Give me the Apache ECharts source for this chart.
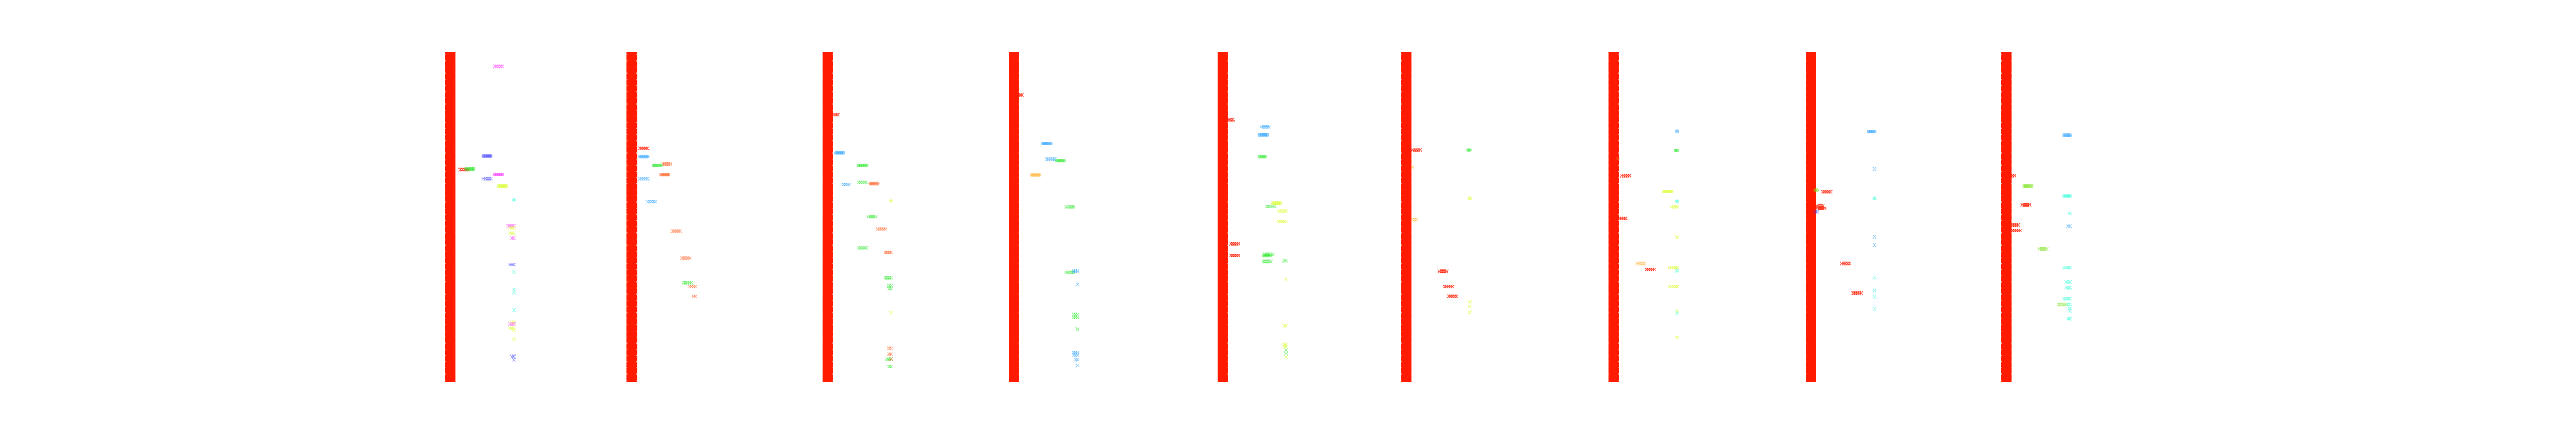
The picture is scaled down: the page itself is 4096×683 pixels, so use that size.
<!DOCTYPE html>
<html>
<head>
<meta charset="utf-8">
<script src="https://cdn.jsdelivr.net/npm/echarts@6/dist/echarts.min.js"></script>
<style>
html,body{margin:0;padding:0;background:#ffffff;}
#chart{width:4096px;height:683px;}
</style>
</head>
<body>
<div id="chart"></div>
<script>
// ---- layout (reference pixels, scaled by SCALE) ----
const SCALE = 0.682;
const panelLeftRef = [1037.7, 1461, 1917.4, 2352, 2838.4, 3266.5, 3750, 4210, 4665.6];
const panelTopRef = 120.7, panelHeightRef = 769, stepWidthRef = 4.45;
const stepRange = [-1, 37];
const valueRange = [0, 100];
const startBlock = [-1, 4.5];   // step span of the red start column

// ---- colour categories: [r, g, b] ----
const palette = {
  r: [255, 26, 0], g: [34, 230, 34], b: [50, 50, 255], m: [255, 34, 255], y: [212, 255, 20],
  c: [34, 255, 212], s: [30, 155, 255], o: [255, 85, 20], a: [255, 165, 20], l: [118, 226, 20]
};
const crossAlpha = {r: 0.95, default: 0.62};
const circleAlpha = 0.62;

// ---- data: [step, value, colour category] ----
const panel1Circles = [
  [19,68.4,'b'],[20,68.4,'b'],[21,68.4,'b'],[22,68.4,'b'],[23,68.4,'b'],
  [10,64.5,'g'],[11,64.5,'g'],[12,64.5,'g'],[13,64.5,'g'],[14,64.5,'g'],
  [25,62.9,'m'],[26,62.9,'m'],[27,62.9,'m'],[28,62.9,'m'],[29,62.9,'m'],
  [27,59.3,'y'],[28,59.3,'y'],[29,59.3,'y'],[30,59.3,'y'],[31,59.3,'y'],
  [35,55.1,'c']
];
const panel1Crosses = [
  [25,95.6,'m'],[26,95.6,'m'],[27,95.6,'m'],[28,95.6,'m'],[29,95.6,'m'],
  [7,64.3,'r'],[8,64.3,'r'],[9,64.3,'r'],[10,64.3,'r'],[11,64.3,'r'],
  [19,61.6,'b'],[20,61.6,'b'],[21,61.6,'b'],[22,61.6,'b'],[23,61.6,'b'],
  [32,47.3,'m'],[33,47.3,'m'],[34,47.3,'m'],[35,47.3,'m'],
  [33,46.7,'y'],[34,46.7,'y'],[35,46.7,'y'],
  [33,45.1,'y'],[34,45.1,'y'],[35,45.1,'y'],
  [34,43.6,'m'],[35,43.6,'m'],
  [33,35.6,'b'],[34,35.6,'b'],[35,35.6,'b'],
  [35,33.3,'c'],[35,28.0,'c'],[35,27.1,'c'],[35,21.8,'c'],
  [34,18.0,'y'],[35,18.0,'y'],
  [33,17.5,'m'],[34,17.5,'m'],[35,17.5,'m'],
  [33,16.3,'y'],[34,16.3,'y'],[35,16.3,'y'],
  [35,15.7,'y'],[35,13.1,'y'],
  [34,7.7,'b'],[35,7.7,'b'],[35,6.7,'b']
];

const panel2Circles = [
  [6,68.3,'s'],[7,68.3,'s'],[8,68.3,'s'],[9,68.3,'s'],[10,68.3,'s'],
  [13,65.6,'g'],[14,65.6,'g'],[15,65.6,'g'],[16,65.6,'g'],[17,65.6,'g'],
  [17,62.8,'o'],[18,62.8,'o'],[19,62.8,'o'],[20,62.8,'o'],[21,62.8,'o']
];
const panel2Crosses = [
  [6,70.8,'r'],[7,70.8,'r'],[8,70.8,'r'],[9,70.8,'r'],[10,70.8,'r'],
  [18,66.0,'o'],[19,66.0,'o'],[20,66.0,'o'],[21,66.0,'o'],[22,66.0,'o'],
  [6,61.6,'s'],[7,61.6,'s'],[8,61.6,'s'],[9,61.6,'s'],[10,61.6,'s'],
  [10,54.6,'s'],[11,54.6,'s'],[12,54.6,'s'],[13,54.6,'s'],[14,54.6,'s'],
  [23,45.7,'o'],[24,45.7,'o'],[25,45.7,'o'],[26,45.7,'o'],[27,45.7,'o'],
  [28,37.5,'o'],[29,37.5,'o'],[30,37.5,'o'],[31,37.5,'o'],[32,37.5,'o'],
  [29,30.1,'g'],[30,30.1,'g'],[31,30.1,'g'],[32,30.1,'g'],[33,30.1,'g'],
  [32,28.9,'o'],[33,28.9,'o'],[34,28.9,'o'],[35,28.9,'o'],
  [34,25.9,'o'],[35,25.9,'o']
];

const panel3Circles = [
  [6,69.4,'s'],[7,69.4,'s'],[8,69.4,'s'],[9,69.4,'s'],[10,69.4,'s'],
  [18,65.6,'g'],[19,65.6,'g'],[20,65.6,'g'],[21,65.6,'g'],[22,65.6,'g'],
  [24,60.1,'o'],[25,60.1,'o'],[26,60.1,'o'],[27,60.1,'o'],[28,60.1,'o'],
  [35,54.9,'y']
];
const panel3Crosses = [
  [4,80.9,'r'],[5,80.9,'r'],[6,80.9,'r'],[7,80.9,'r'],
  [10,59.8,'s'],[11,59.8,'s'],[12,59.8,'s'],[13,59.8,'s'],
  [18,60.5,'g'],[19,60.5,'g'],[20,60.5,'g'],[21,60.5,'g'],[22,60.5,'g'],
  [23,50.0,'g'],[24,50.0,'g'],[25,50.0,'g'],[26,50.0,'g'],[27,50.0,'g'],
  [28,46.3,'o'],[29,46.3,'o'],[30,46.3,'o'],[31,46.3,'o'],[32,46.3,'o'],
  [18,40.6,'g'],[19,40.6,'g'],[20,40.6,'g'],[21,40.6,'g'],[22,40.6,'g'],
  [32,39.3,'o'],[33,39.3,'o'],[34,39.3,'o'],[35,39.3,'o'],
  [32,31.6,'g'],[33,31.6,'g'],[34,31.6,'g'],[35,31.6,'g'],
  [34,29.2,'g'],[35,29.2,'g'],[34,28.3,'g'],[35,28.3,'g'],
  [35,21.0,'y'],
  [34,10.2,'o'],[35,10.2,'o'],
  [34,8.5,'o'],[35,8.5,'o'],
  [33,7.0,'g'],[34,7.0,'g'],[35,7.0,'g'],[35,7.0,'o'],
  [34,4.7,'g'],[35,4.7,'g']
];

const panel4Circles = [
  [17,72.2,'s'],[18,72.2,'s'],[19,72.2,'s'],[20,72.2,'s'],[21,72.2,'s'],
  [24,67.0,'g'],[25,67.0,'g'],[26,67.0,'g'],[27,67.0,'g'],[28,67.0,'g'],
  [11,62.7,'a'],[12,62.7,'a'],[13,62.7,'a'],[14,62.7,'a'],[15,62.7,'a']
];
const panel4Crosses = [
  [4,86.9,'r'],[5,86.9,'r'],[6,86.9,'r'],
  [19,67.5,'s'],[20,67.5,'s'],[21,67.5,'s'],[22,67.5,'s'],[23,67.5,'s'],
  [29,53.0,'g'],[30,53.0,'g'],[31,53.0,'g'],[32,53.0,'g'],[33,53.0,'g'],
  [29,33.2,'g'],[30,33.2,'g'],[31,33.2,'g'],[32,33.2,'g'],[33,33.2,'g'],
  [33,33.6,'s'],[34,33.6,'s'],[35,33.6,'s'],
  [35,29.6,'s'],
  [33,20.5,'g'],[34,20.5,'g'],[35,20.5,'g'],
  [33,19.6,'g'],[34,19.6,'g'],[35,19.6,'g'],
  [35,16.0,'g'],
  [33,8.9,'s'],[34,8.9,'s'],[35,8.9,'s'],
  [33,8.1,'s'],[34,8.1,'s'],[35,8.1,'s'],
  [34,6.7,'s'],[35,6.7,'s'],
  [35,5.0,'s']
];

const panel5Circles = [
  [21,74.9,'s'],[22,74.9,'s'],[23,74.9,'s'],[24,74.9,'s'],[25,74.9,'s'],
  [21,68.3,'g'],[22,68.3,'g'],[23,68.3,'g'],[24,68.3,'g'],
  [28,54.1,'y'],[29,54.1,'y'],[30,54.1,'y'],[31,54.1,'y'],[32,54.1,'y']
];
const panel5Crosses = [
  [4,79.5,'r'],[5,79.5,'r'],[6,79.5,'r'],[7,79.5,'r'],
  [22,77.2,'s'],[23,77.2,'s'],[24,77.2,'s'],[25,77.2,'s'],[26,77.2,'s'],
  [25,53.2,'g'],[26,53.2,'g'],[27,53.2,'g'],[28,53.2,'g'],[29,53.2,'g'],
  [31,51.8,'y'],[32,51.8,'y'],[33,51.8,'y'],[34,51.8,'y'],[35,51.8,'y'],
  [31,48.6,'y'],[32,48.6,'y'],[33,48.6,'y'],[34,48.6,'y'],[35,48.6,'y'],
  [6,41.9,'r'],[7,41.9,'r'],[8,41.9,'r'],[9,41.9,'r'],[10,41.9,'r'],
  [6,38.3,'r'],[7,38.3,'r'],[8,38.3,'r'],[9,38.3,'r'],[10,38.3,'r'],
  [23,38.2,'g'],[24,38.2,'g'],[25,38.2,'g'],[26,38.2,'g'],[27,38.2,'g'],
  [24,38.6,'g'],[25,38.6,'g'],[26,38.6,'g'],[27,38.6,'g'],[28,38.6,'g'],
  [23,36.5,'g'],[24,36.5,'g'],[25,36.5,'g'],[26,36.5,'g'],[27,36.5,'g'],
  [34,36.8,'g'],[35,36.8,'g'],
  [35,31.1,'y'],
  [34,17.0,'y'],[35,17.0,'y'],
  [34,11.3,'y'],[35,11.3,'y'],
  [34,10.7,'y'],[35,10.7,'y'],
  [35,9.6,'g'],[35,8.6,'g'],
  [35,7.6,'y']
];

const panel6Circles = [
  [34,70.3,'g'],[35,70.3,'g'],
  [35,55.6,'y']
];
const panel6Crosses = [
  [5,70.3,'r'],[6,70.3,'r'],[7,70.3,'r'],[8,70.3,'r'],[9,70.3,'r'],
  [5,65.1,'a'],
  [5,49.2,'a'],[6,49.2,'a'],[7,49.2,'a'],
  [19,33.5,'r'],[20,33.5,'r'],[21,33.5,'r'],[22,33.5,'r'],[23,33.5,'r'],
  [22,28.9,'r'],[23,28.9,'r'],[24,28.9,'r'],[25,28.9,'r'],[26,28.9,'r'],
  [24,26.0,'r'],[25,26.0,'r'],[26,26.0,'r'],[27,26.0,'r'],[28,26.0,'r'],
  [35,24.2,'y'],[35,22.8,'y'],[35,21.1,'y']
];

const panel7Circles = [
  [35,76.0,'s'],
  [34,70.2,'g'],[35,70.2,'g'],
  [4,67.7,'o'],
  [28,57.7,'y'],[29,57.7,'y'],[30,57.7,'y'],[31,57.7,'y'],[32,57.7,'y'],
  [35,54.8,'c']
];
const panel7Crosses = [
  [6,62.5,'r'],[7,62.5,'r'],[8,62.5,'r'],[9,62.5,'r'],[10,62.5,'r'],
  [32,53.0,'y'],[33,53.0,'y'],[34,53.0,'y'],[35,53.0,'y'],
  [4,49.6,'r'],[5,49.6,'r'],[6,49.6,'r'],[7,49.6,'r'],[8,49.6,'r'],
  [35,43.8,'y'],
  [14,35.9,'a'],[15,35.9,'a'],[16,35.9,'a'],[17,35.9,'a'],[18,35.9,'a'],
  [19,34.1,'r'],[20,34.1,'r'],[21,34.1,'r'],[22,34.1,'r'],[23,34.1,'r'],
  [31,34.6,'y'],[32,34.6,'y'],[33,34.6,'y'],[34,34.6,'y'],[35,34.6,'y'],
  [35,33.7,'c'],
  [31,28.9,'y'],[32,28.9,'y'],[33,28.9,'y'],[34,28.9,'y'],[35,28.9,'y'],
  [35,21.5,'y'],[35,20.9,'c'],
  [35,13.5,'y']
];

const panel8Circles = [
  [32,75.8,'s'],[33,75.8,'s'],[34,75.8,'s'],[35,75.8,'s'],
  [4,58.1,'l'],[5,58.1,'l'],
  [35,55.6,'c']
];
const panel8Crosses = [
  [35,64.5,'s'],
  [8,57.6,'r'],[9,57.6,'r'],[10,57.6,'r'],[11,57.6,'r'],[12,57.6,'r'],
  [5,53.4,'r'],[6,53.4,'r'],[7,53.4,'r'],[8,53.4,'r'],
  [5,52.7,'r'],[6,52.7,'r'],[7,52.7,'r'],[8,52.7,'r'],[9,52.7,'r'],
  [4,51.5,'b'],[5,51.5,'b'],
  [35,44.0,'s'],[35,41.5,'s'],
  [18,35.9,'r'],[19,35.9,'r'],[20,35.9,'r'],[21,35.9,'r'],[22,35.9,'r'],
  [35,31.7,'c'],
  [24,26.9,'r'],[25,26.9,'r'],[26,26.9,'r'],[27,26.9,'r'],[28,26.9,'r'],
  [35,27.7,'c'],[35,25.7,'c'],[35,22.1,'c']
];

const panel9Circles = [
  [32,74.7,'s'],[33,74.7,'s'],[34,74.7,'s'],[35,74.7,'s'],
  [11,59.3,'l'],[12,59.3,'l'],[13,59.3,'l'],[14,59.3,'l'],[15,59.3,'l'],
  [32,56.4,'c'],[33,56.4,'c'],[34,56.4,'c'],[35,56.4,'c']
];
const panel9Crosses = [
  [4,62.5,'r'],[5,62.5,'r'],[6,62.5,'r'],
  [10,53.7,'r'],[11,53.7,'r'],[12,53.7,'r'],[13,53.7,'r'],[14,53.7,'r'],
  [35,51.1,'c'],
  [34,47.2,'s'],[35,47.2,'s'],
  [5,47.5,'r'],[6,47.5,'r'],[7,47.5,'r'],[8,47.5,'r'],
  [5,45.9,'r'],[6,45.9,'r'],[7,45.9,'r'],[8,45.9,'r'],[9,45.9,'r'],
  [19,40.3,'l'],[20,40.3,'l'],[21,40.3,'l'],[22,40.3,'l'],[23,40.3,'l'],
  [32,34.6,'c'],[33,34.6,'c'],[34,34.6,'c'],[35,34.6,'c'],
  [33,30.3,'c'],[34,30.3,'c'],[35,30.3,'c'],
  [33,28.6,'c'],[34,28.6,'c'],[35,28.6,'c'],
  [32,25.2,'c'],[33,25.2,'c'],[34,25.2,'c'],[35,25.2,'c'],
  [29,23.5,'l'],[30,23.5,'l'],[31,23.5,'l'],[32,23.5,'l'],[33,23.5,'l'],
  [34,23.5,'c'],[35,23.5,'c'],
  [35,22.3,'c'],[35,21.5,'c'],
  [34,19.1,'c'],[35,19.1,'c']
];

const panelCircles = [panel1Circles, panel2Circles, panel3Circles, panel4Circles, panel5Circles,
                      panel6Circles, panel7Circles, panel8Circles, panel9Circles];
const panelCrosses = [panel1Crosses, panel2Crosses, panel3Crosses, panel4Crosses, panel5Crosses,
                      panel6Crosses, panel7Crosses, panel8Crosses, panel9Crosses];

// ---- build options ----
const crossSymbol = 'path://M1.4,0L5,3.6L8.6,0L10,1.4L6.4,5L10,8.6L8.6,10L5,6.4L1.4,10L0,8.6L3.6,5L0,1.4Z';
const rgba = (k, a) => 'rgba(' + palette[k].join(',') + ',' + a + ')';
const crossColor = p => rgba(p.data[2], crossAlpha[p.data[2]] || crossAlpha.default);
const circleColor = p => rgba(p.data[2], circleAlpha);

const grids = [], xAxes = [], yAxes = [], series = [];
panelLeftRef.forEach((left, i) => {
  grids.push({
    left: left * SCALE,
    top: panelTopRef * SCALE,
    width: (stepRange[1] - stepRange[0]) * stepWidthRef * SCALE,
    height: panelHeightRef * SCALE,
    containLabel: false
  });
  xAxes.push({type: 'value', gridIndex: i, min: stepRange[0], max: stepRange[1], show: false});
  yAxes.push({type: 'value', gridIndex: i, min: valueRange[0], max: valueRange[1], show: false});
  series.push({
    type: 'custom', xAxisIndex: i, yAxisIndex: i, silent: true, clip: false,
    data: [startBlock],
    renderItem: (params, api) => {
      const a = api.coord([api.value(0), valueRange[1]]);
      const b = api.coord([api.value(1), valueRange[0]]);
      const edge = {stroke: '#ffcfc8', lineWidth: 1, lineDash: [1.4, 8.35]};
      return {type: 'group', children: [
        {type: 'rect', shape: {x: a[0], y: a[1], width: b[0] - a[0], height: b[1] - a[1]}, style: {fill: rgba('r', 1)}},
        {type: 'line', shape: {x1: a[0] + 0.5, y1: a[1] + 4, x2: a[0] + 0.5, y2: b[1]}, style: edge},
        {type: 'line', shape: {x1: b[0] - 0.5, y1: a[1] + 4, x2: b[0] - 0.5, y2: b[1]}, style: edge}
      ]};
    }
  });
  series.push({
    type: 'scatter', xAxisIndex: i, yAxisIndex: i, silent: true,
    data: panelCrosses[i], symbol: crossSymbol, symbolSize: 9 * SCALE,
    itemStyle: {color: crossColor}
  });
  series.push({
    type: 'scatter', xAxisIndex: i, yAxisIndex: i, silent: true,
    data: panelCircles[i], symbol: 'circle', symbolSize: 8.6 * SCALE,
    itemStyle: {color: circleColor}
  });
});

const chart = echarts.init(document.getElementById('chart'), null, {renderer: 'canvas'});
chart.setOption({
  animation: false,
  backgroundColor: '#ffffff',
  grid: grids,
  xAxis: xAxes,
  yAxis: yAxes,
  series: series
});
</script>
</body>
</html>
